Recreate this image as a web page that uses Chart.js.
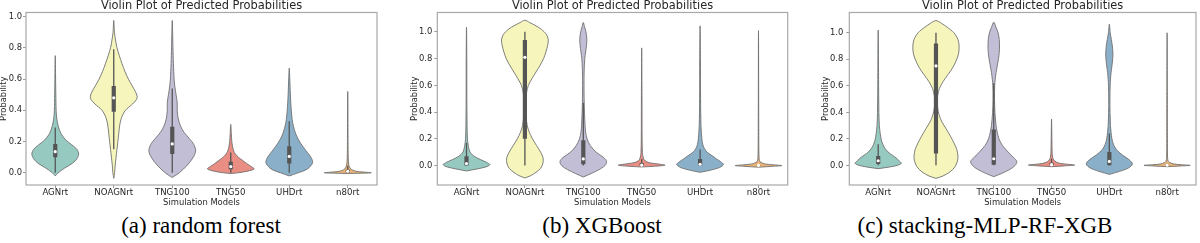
<!DOCTYPE html>
<html>
<head>
<meta charset="utf-8">
<script src="https://cdn.jsdelivr.net/npm/chart.js@4.4.1/dist/chart.umd.min.js"></script>
<style>
  html, body { margin: 0; padding: 0; background: #ffffff; }
  body { width: 1200px; height: 243px; position: relative; overflow: hidden; }
  canvas { position: absolute; top: 0; }
  .cap { position: absolute; top: 212px; transform: translateX(-50%); font-family: "Liberation Serif", "Times New Roman", serif; font-size: 23px; line-height: 28px; color: #000; white-space: nowrap; }
</style>
</head>
<body>
<canvas id="c1" width="400" height="212" style="left:0px"></canvas>
<canvas id="c2" width="400" height="212" style="left:400px"></canvas>
<canvas id="c3" width="400" height="212" style="left:800px"></canvas>
<div class="cap" id="cap1" style="left:201px"></div>
<div class="cap" id="cap2" style="left:602px"></div>
<div class="cap" id="cap3" style="left:985px"></div>
<script>
// ---------------- data ----------------
const CATEGORIES = ['AGNrt', 'NOAGNrt', 'TNG100', 'TNG50', 'UHDrt', 'n80rt'];
const Y_TICKS = [0.0, 0.2, 0.4, 0.6, 0.8, 1.0];
const PANEL_TITLE = 'Violin Plot of Predicted Probabilities';
const X_TITLE = 'Simulation Models';
const Y_TITLE = 'Probability';
const CAPTIONS = ['(a) random forest', '(b) XGBoost', '(c) stacking-MLP-RF-XGB'];

// violin outlines: [probability, half-width (category units)]
const RF_VIOLINS = [
  [[-0.02,0],[0,0.05],[0.03,0.16],[0.06,0.29],[0.09,0.37],[0.12,0.4],[0.15,0.37],[0.18,0.28],[0.21,0.18],[0.25,0.1],[0.3,0.05],[0.35,0.025],[0.4,0.015],[0.5,0.01],[0.6,0.006],[0.75,0]],
  [[-0.035,0],[0,0.015],[0.05,0.025],[0.1,0.04],[0.15,0.055],[0.2,0.07],[0.25,0.085],[0.3,0.1],[0.35,0.13],[0.4,0.2],[0.44,0.32],[0.47,0.39],[0.49,0.4],[0.52,0.37],[0.56,0.31],[0.6,0.25],[0.65,0.19],[0.7,0.14],[0.75,0.095],[0.8,0.055],[0.85,0.03],[0.9,0.012],[0.975,0]],
  [[-0.03,0],[0,0.12],[0.05,0.26],[0.1,0.36],[0.14,0.4],[0.18,0.37],[0.22,0.29],[0.26,0.2],[0.3,0.14],[0.35,0.1],[0.4,0.085],[0.45,0.085],[0.5,0.065],[0.55,0.045],[0.6,0.032],[0.7,0.02],[0.8,0.012],[0.9,0.006],[0.975,0]],
  [[-0.005,0],[0,0.12],[0.01,0.28],[0.025,0.4],[0.04,0.35],[0.06,0.27],[0.08,0.2],[0.1,0.13],[0.12,0.08],[0.14,0.05],[0.17,0.03],[0.2,0.018],[0.25,0.01],[0.31,0]],
  [[-0.02,0],[0,0.15],[0.02,0.29],[0.045,0.37],[0.07,0.4],[0.1,0.37],[0.13,0.31],[0.17,0.23],[0.21,0.16],[0.25,0.11],[0.3,0.07],[0.34,0.05],[0.4,0.035],[0.45,0.026],[0.5,0.019],[0.55,0.014],[0.6,0.009],[0.67,0]],
  [[-0.005,0],[0,0.4],[0.005,0.26],[0.01,0.14],[0.02,0.07],[0.03,0.04],[0.05,0.018],[0.1,0.008],[0.2,0.005],[0.52,0]]
];
const RF_Q1  = [0.10, 0.39, 0.12, 0.022, 0.06, 0.002];
const RF_MED = [0.135, 0.48, 0.185, 0.04, 0.105, 0.01];
const RF_Q3  = [0.185, 0.555, 0.295, 0.07, 0.17, 0.02];
const RF_LO  = [0.0, 0.15, 0.0, 0.0, 0.0, 0.0];
const RF_HI  = [0.29, 0.79, 0.54, 0.13, 0.33, 0.045];

const XGB_VIOLINS = [
  [[-0.04,0],[-0.025,0.18],[-0.01,0.33],[0.007,0.4],[0.025,0.34],[0.045,0.24],[0.07,0.13],[0.095,0.07],[0.12,0.045],[0.15,0.03],[0.2,0.016],[0.3,0.01],[0.5,0.006],[0.8,0.005],[1.035,0]],
  [[-0.092,0],[-0.075,0.1],[-0.05,0.19],[-0.02,0.27],[0.02,0.31],[0.06,0.31],[0.1,0.27],[0.15,0.2],[0.2,0.13],[0.25,0.075],[0.3,0.04],[0.35,0.025],[0.4,0.02],[0.45,0.018],[0.5,0.02],[0.55,0.03],[0.6,0.06],[0.65,0.12],[0.7,0.19],[0.75,0.26],[0.8,0.32],[0.85,0.36],[0.9,0.39],[0.94,0.4],[0.98,0.37],[1.02,0.28],[1.05,0.17],[1.07,0.08],[1.087,0]],
  [[-0.085,0],[-0.06,0.13],[-0.03,0.27],[0,0.37],[0.03,0.4],[0.06,0.35],[0.1,0.22],[0.15,0.12],[0.2,0.065],[0.25,0.04],[0.3,0.03],[0.4,0.02],[0.5,0.014],[0.6,0.012],[0.7,0.014],[0.8,0.025],[0.85,0.04],[0.9,0.055],[0.95,0.06],[1.0,0.045],[1.04,0.02],[1.07,0]],
  [[-0.01,0],[-0.005,0.22],[0.003,0.4],[0.012,0.28],[0.02,0.15],[0.03,0.08],[0.045,0.04],[0.07,0.02],[0.1,0.012],[0.2,0.007],[0.5,0.005],[0.88,0]],
  [[-0.05,0],[-0.035,0.17],[-0.015,0.33],[0.008,0.4],[0.03,0.35],[0.05,0.28],[0.07,0.22],[0.1,0.12],[0.13,0.07],[0.16,0.045],[0.2,0.03],[0.3,0.015],[0.5,0.008],[0.8,0.006],[1.045,0]],
  [[-0.012,0],[-0.005,0.25],[0,0.4],[0.006,0.25],[0.012,0.12],[0.02,0.06],[0.03,0.025],[0.05,0.01],[0.2,0.005],[1.01,0]]
];
const XGB_Q1  = [0.0, 0.20, 0.01, 0.0, 0.0, 0.0];
const XGB_MED = [0.015, 0.81, 0.05, 0.004, 0.01, 0.002];
const XGB_Q3  = [0.07, 0.94, 0.19, 0.02, 0.05, 0.005];
const XGB_LO  = [0.0, 0.0, 0.0, 0.0, 0.0, 0.0];
const XGB_HI  = [0.17, 1.0, 0.47, 0.05, 0.12, 0.012];

const STK_VIOLINS = [
  [[-0.025,0],[-0.012,0.2],[0,0.33],[0.015,0.4],[0.035,0.36],[0.063,0.29],[0.09,0.2],[0.115,0.14],[0.14,0.1],[0.17,0.07],[0.2,0.05],[0.24,0.035],[0.3,0.02],[0.4,0.012],[0.6,0.007],[0.8,0.005],[1.02,0]],
  [[-0.098,0],[-0.08,0.12],[-0.05,0.24],[-0.01,0.33],[0.03,0.37],[0.07,0.38],[0.12,0.36],[0.17,0.31],[0.22,0.25],[0.28,0.17],[0.33,0.1],[0.38,0.055],[0.43,0.03],[0.48,0.022],[0.53,0.03],[0.58,0.06],[0.63,0.12],[0.68,0.2],[0.73,0.28],[0.78,0.34],[0.84,0.39],[0.9,0.4],[0.95,0.38],[1.0,0.31],[1.04,0.2],[1.07,0.1],[1.092,0]],
  [[-0.085,0],[-0.06,0.14],[-0.03,0.28],[0,0.37],[0.03,0.4],[0.06,0.34],[0.1,0.25],[0.15,0.15],[0.2,0.09],[0.25,0.06],[0.3,0.04],[0.4,0.02],[0.5,0.013],[0.6,0.016],[0.65,0.025],[0.7,0.04],[0.75,0.06],[0.8,0.08],[0.85,0.095],[0.9,0.1],[0.95,0.095],[1.0,0.075],[1.04,0.04],[1.08,0]],
  [[-0.01,0],[-0.004,0.22],[0.002,0.4],[0.008,0.28],[0.015,0.15],[0.025,0.08],[0.04,0.04],[0.06,0.02],[0.1,0.01],[0.2,0.006],[0.35,0]],
  [[-0.068,0],[-0.045,0.18],[-0.02,0.33],[0.01,0.4],[0.04,0.35],[0.08,0.22],[0.12,0.12],[0.16,0.07],[0.2,0.045],[0.25,0.03],[0.3,0.02],[0.4,0.012],[0.5,0.01],[0.6,0.014],[0.65,0.02],[0.7,0.03],[0.75,0.045],[0.8,0.058],[0.85,0.062],[0.9,0.052],[0.95,0.035],[1.0,0.015],[1.065,0]],
  [[-0.01,0],[-0.004,0.25],[0,0.4],[0.005,0.25],[0.01,0.12],[0.02,0.05],[0.03,0.02],[0.06,0.008],[0.2,0.005],[1.0,0]]
];
const STK_Q1  = [0.01, 0.09, 0.005, 0.0, 0.0, 0.0];
const STK_MED = [0.035, 0.75, 0.05, 0.005, 0.03, 0.002];
const STK_Q3  = [0.07, 0.92, 0.27, 0.02, 0.10, 0.006];
const STK_LO  = [0.0, 0.0, 0.0, 0.0, 0.0, 0.0];
const STK_HI  = [0.16, 1.0, 0.62, 0.05, 0.24, 0.015];

// ---------------- styles ----------------
const COLORS = ['#96cac1', '#f6f6bc', '#c1bed6', '#ea8e83', '#8aafc9', '#eab375'];
const EDGE = '#707070';
const BOXC = '#555555';
const TEXT = '#262626';
const SPINE = '#a8a8a8';
const FONT = 'DejaVu Sans';

Chart.defaults.font.family = FONT;
Chart.defaults.color = TEXT;

const frame = {
  id: 'frame',
  afterDatasetsDraw(chart) {
    const {ctx, chartArea: a} = chart;
    ctx.save();
    ctx.strokeStyle = SPINE;
    ctx.lineWidth = 1.2;
    ctx.strokeRect(a.left, a.top, a.right - a.left, a.bottom - a.top);
    ctx.restore();
  }
};

function outline(profile, i) {
  const right = profile.map(p => ({x: i + p[1], y: p[0]}));
  const left = profile.slice().reverse().map(p => ({x: i - p[1], y: p[0]}));
  return right.concat(left.slice(1));
}
function segs(lo, hi) {
  const pts = [];
  lo.forEach((v, i) => { pts.push({x: i, y: v}, {x: i, y: hi[i]}, {x: i, y: null}); });
  return pts;
}

function makeChart(id, cfg) {
  const datasets = [];
  datasets.push({
    data: cfg.med.map((v, i) => ({x: i, y: v})),
    showLine: false, pointRadius: 1.6, pointBackgroundColor: '#ffffff', pointBorderWidth: 0, order: 0
  });
  datasets.push({
    data: segs(cfg.q1, cfg.q3), borderColor: BOXC, borderWidth: 4.2, borderCapStyle: 'butt',
    pointRadius: 0, spanGaps: false, fill: false, order: 1
  });
  datasets.push({
    data: segs(cfg.lo, cfg.hi), borderColor: BOXC, borderWidth: 1.3, borderCapStyle: 'butt',
    pointRadius: 0, spanGaps: false, fill: false, order: 2
  });
  cfg.violins.forEach((prof, i) => {
    datasets.push({
      data: outline(prof, i), borderColor: EDGE, borderWidth: 0.9, backgroundColor: COLORS[i],
      fill: 'shape', pointRadius: 0, tension: 0.3, order: 3
    });
  });
  return new Chart(document.getElementById(id), {
    type: 'line',
    data: {datasets},
    plugins: [frame],
    options: {
      responsive: false, animation: false, events: [],
      layout: {padding: {left: 0, right: cfg.padRight, top: 0, bottom: 0}},
      plugins: {
        legend: {display: false}, tooltip: {enabled: false},
        title: {display: true, text: PANEL_TITLE, fullSize: false, color: TEXT,
                font: {family: FONT, size: 11.4, weight: 'normal'}, padding: {top: -1.2, bottom: 0}}
      },
      scales: {
        x: {
          type: 'linear', min: -0.5, max: 5.5,
          afterBuildTicks: s => { s.ticks = CATEGORIES.map((c, i) => ({value: i})); },
          afterFit: s => { s.height = 27; },
          ticks: {callback: (v, i) => CATEGORIES[i], autoSkip: false, maxRotation: 0, padding: 0,
                  font: {family: FONT, size: 8.6}, color: TEXT},
          grid: {drawOnChartArea: false, tickLength: 3, color: '#9a9a9a'},
          border: {display: false},
          title: {display: true, text: X_TITLE, font: {family: FONT, size: 8.4}, color: TEXT,
                  padding: {top: 0, bottom: 4.6}}
        },
        y: {
          type: 'linear', min: cfg.ymin, max: cfg.ymax,
          afterBuildTicks: s => { s.ticks = Y_TICKS.map(v => ({value: v})); },
          afterFit: s => { s.width = cfg.yWidth; },
          ticks: {callback: v => Number(v).toFixed(1), padding: cfg.tickPad,
                  font: {family: FONT, size: 8.4}, color: TEXT},
          grid: {drawOnChartArea: false, tickLength: 3, color: '#9a9a9a'},
          border: {display: false},
          title: {display: true, text: Y_TITLE, font: {family: FONT, size: 8.4}, color: TEXT,
                  padding: {top: cfg.yTitlePad, bottom: 0}}
        }
      }
    }
  });
}

makeChart('c1', {violins: RF_VIOLINS, q1: RF_Q1, med: RF_MED, q3: RF_Q3, lo: RF_LO, hi: RF_HI,
  ymin: -0.078, ymax: 1.026, padRight: 23, yWidth: 26, tickPad: 1, yTitlePad: -1.5});
makeChart('c2', {violins: XGB_VIOLINS, q1: XGB_Q1, med: XGB_MED, q3: XGB_Q3, lo: XGB_LO, hi: XGB_HI,
  ymin: -0.145, ymax: 1.145, padRight: 12.3, yWidth: 37.3, tickPad: 2, yTitlePad: 9.5});
makeChart('c3', {violins: STK_VIOLINS, q1: STK_Q1, med: STK_MED, q3: STK_Q3, lo: STK_LO, hi: STK_HI,
  ymin: -0.148, ymax: 1.153, padRight: 3, yWidth: 49.3, tickPad: 3, yTitlePad: 21});

CAPTIONS.forEach((t, i) => { document.getElementById('cap' + (i + 1)).textContent = t; });
</script>
</body>
</html>
